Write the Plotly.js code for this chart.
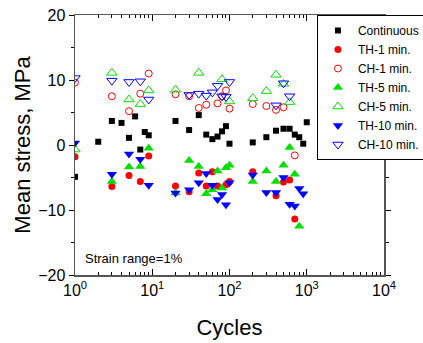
<!DOCTYPE html>
<html><head><meta charset="utf-8">
<script src="https://cdn.plot.ly/plotly-3.0.1.min.js"></script>
<style>html,body{margin:0;padding:0;background:#fff;}#chart{width:423px;height:343px;}</style>
</head><body><div id="chart"></div>
<script>
// Data (cycles, mean stress in MPa)
const contX = [1,2,3,4,5,6,7,8,9,20,30,40,50,60,70,80,90,100,200,300,400,500,600,700,800,900,1000];
const contY = [-4.9,0.5,3.7,3.4,1.1,4.4,-0.7,2.0,1.5,3.7,2.3,4.6,1.6,0.9,1.3,2.1,2.9,0.2,0.4,1.2,2.2,2.5,2.5,1.6,1.2,0.2,3.5];

const th1X = [1,3,5,7,9,20,30,40,50,60,70,90,100,200,400,500,600,700];
const th1Y = [-1.8,-6.4,-4.7,-5.6,-1.7,-6.3,-7.2,-4.3,-6.3,-4.1,-6.3,-6.1,-5.6,-4.1,-7.8,-5.7,-5.4,-11.4];

const ch1X = [1,3,5,7,9,20,30,40,50,70,80,90,100,200,300,400,500,700];
const ch1Y = [9.6,7.5,5.2,7.9,11.0,7.8,7.5,5.7,6.2,6.4,7.5,8.4,5.6,6.3,6.0,5.4,5.8,-1.6];

const th5X = [3,5,7,9,20,30,40,50,60,70,80,90,100,200,300,400,500,600,700,800];
const th5Y = [-5.6,-3.4,-3.3,-0.5,-7.4,-2.4,-3.3,-7.5,-6.9,-4.0,-6.6,-3.5,-3.1,-5.6,-4.0,-5.6,-3.1,-0.4,-4.5,-12.5];

const ch5X = [1,3,5,7,9,20,40,80,100,200,300,400,500,600];
const ch5Y = [-0.7,11.1,7.0,6.3,8.4,8.5,11.1,10.1,6.7,7.2,8.3,10.8,9.4,6.6];

const th10X = [1,3,5,7,9,20,30,40,50,60,70,80,90,100,200,300,400,500,600,700,800,900];
const th10Y = [0.3,-4.5,-1.4,-2.2,-6.2,-7.4,-6.9,-5.8,-4.4,-6.2,-8.4,-7.6,-9.2,-5.8,-4.6,-7.3,-7.3,-5.0,-9.1,-9.4,-6.7,-7.5];

const ch10X = [1,3,5,7,9,30,40,50,60,70,80,90,100,400,500,600];
const ch10Y = [10.3,9.9,9.7,9.8,7.0,7.7,7.9,7.6,8.1,9.1,7.5,7.4,9.7,6.1,9.5,7.5];

const xTickVals = [1,10,100,1000,10000];
const xTickText = ['10<sup>0</sup>','10<sup>1</sup>','10<sup>2</sup>','10<sup>3</sup>','10<sup>4</sup>'];
const xMinorVals = [];
for (const d of [1,10,100,1000]) for (let m=2;m<=9;m++) xMinorVals.push(m*d);

const RED='#ff0000', GREEN='#00e000', BLUE='#0000ff';
const FONT = 'Arial, "Liberation Sans", sans-serif';

function tr(name,x,y,symbol,color,size){
  const open = symbol.indexOf('open')>=0;
  return {type:'scatter',mode:'markers',name:name,x:x,y:y,
    marker:{symbol:symbol,size:size,color:color,line:{color:color,width:open?1:0}}};
}

const data = [
  tr('Continuous',contX,contY,'square','#000000',6),
  tr('TH-1 min.',th1X,th1Y,'circle',RED,7),
  tr('CH-1 min.',ch1X,ch1Y,'circle-open',RED,7),
  tr('TH-5 min.',th5X,th5Y,'triangle-up',GREEN,9),
  tr('CH-5 min.',ch5X,ch5Y,'triangle-up-open',GREEN,9),
  tr('TH-10 min.',th10X,th10Y,'triangle-down',BLUE,9),
  tr('CH-10 min.',ch10X,ch10Y,'triangle-down-open',BLUE,9)
];

const layout = {
  width:423,height:343,
  margin:{l:75,r:39,t:15,b:68,autoexpand:false},
  paper_bgcolor:'#ffffff',plot_bgcolor:'#ffffff',
  font:{family:FONT,color:'#000000'},
  showlegend:true,
  legend:{x:0.783,xanchor:'left',y:1,yanchor:'top',bgcolor:'#ffffff',
    bordercolor:'#000000',borderwidth:1,font:{family:FONT,size:12,color:'#000'},
    tracegroupgap:0,itemsizing:'trace'},
  xaxis:{type:'log',range:[0,4],tickmode:'array',tickvals:xTickVals,ticktext:xTickText,
    ticks:'inside',ticklen:6,tickwidth:1,tickcolor:'#000',
    minor:{tickmode:'array',tickvals:xMinorVals,ticks:'inside',ticklen:3,tickcolor:'#000',showgrid:false},
    showline:true,linecolor:'#555',linewidth:1.5,mirror:'ticks',showgrid:false,zeroline:false,
    tickfont:{family:FONT,size:16,color:'#000'},
    title:{text:'Cycles',font:{family:FONT,size:22,color:'#000'},standoff:22}},
  yaxis:{range:[-20,20],tickmode:'linear',tick0:-20,dtick:10,
    ticks:'outside',ticklen:5,tickwidth:1,tickcolor:'#000',
    minor:{dtick:5,ticks:'outside',ticklen:3,tickcolor:'#000',showgrid:false},
    showline:true,linecolor:'#555',linewidth:1.5,mirror:'ticks',showgrid:false,zeroline:false,
    tickfont:{family:FONT,size:16,color:'#000'},
    title:{text:'Mean stress, MPa',font:{family:FONT,size:22,color:'#000'},standoff:1}},
  annotations:[{xref:'paper',yref:'paper',x:0.026,y:0.062,xanchor:'left',yanchor:'middle',
    text:'Strain range=1%',showarrow:false,font:{family:FONT,size:13,color:'#000'}}]
};

Plotly.newPlot('chart',data,layout,{displayModeBar:false,staticPlot:true});
</script></body></html>
